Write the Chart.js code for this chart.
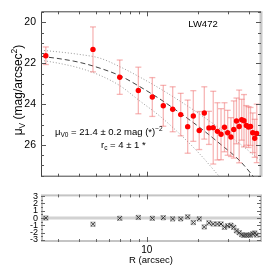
<!DOCTYPE html>
<html><head><meta charset="utf-8">
<script src="https://cdn.jsdelivr.net/npm/chart.js@4.4.0/dist/chart.umd.min.js"></script>
<style>
html,body{margin:0;padding:0;background:#fff;width:270px;height:270px;overflow:hidden;}
#c1{position:absolute;left:0;top:0;width:270px;height:188px;}
#c2{position:absolute;left:0;top:186px;width:270px;height:84px;}
</style></head><body>
<canvas id="c1" width="270" height="188"></canvas>
<canvas id="c2" width="270" height="84"></canvas>
<script>
// ---- data ----
const radius = [2.55, 4.83, 6.94, 8.93, 10.79, 12.52, 14.22, 15.85, 17.42, 18.80, 20.37, 21.82, 23.23, 24.63, 26.07, 27.37, 28.68, 29.95, 31.3, 32.52, 33.73, 34.99, 36.22, 37.35, 38.55, 39.72, 40.80, 42.06, 43.20, 44.4];
const mu = [21.63, 21.32, 22.68, 23.33, 23.65, 24.08, 24.25, 24.51, 25.10, 24.58, 25.29, 24.43, 25.16, 25.15, 25.33, 25.47, 25.13, 25.40, 25.61, 25.24, 24.82, 25.09, 24.76, 24.81, 25.04, 25.12, 25.09, 25.40, 25.67, 25.43];
const muErr = [0.43, 1.1, 0.84, 1.14, 0.95, 1.0, 1.1, 1.04, 1.3, 1.24, 0.93, 1.28, 0.81, 1.78, 1.4, 1.25, 1.2, 1.1, 0.95, 1.4, 1.12, 1.78, 1.0, 1.28, 0.97, 1.0, 0.93, 0.97, 0.93, 1.43];
const resid = [0, -0.86, -0.04, 0.08, -0.04, 0.04, -0.12, -0.12, 0.16, -0.62, -0.12, -1.23, -0.66, -0.82, -0.82, -0.82, -1.28, -1.07, -0.99, -1.28, -1.77, -2.02, -2.3, -2.39, -2.35, -2.35, -2.35, -2.18, -2.06, -2.35];
const modelR = [2.389, 3.090, 4.052, 5.312, 6.965, 9.133, 11.97, 15.70, 20.58, 26.99, 35.38, 47.03];
const fitMid = [21.66, 21.78, 21.96, 22.24, 22.61, 23.15, 23.75, 24.43, 25.15, 25.94, 26.78, 28.0];
const fitHi  = [21.36, 21.45, 21.57, 21.75, 22.17, 22.68, 23.24, 23.85, 24.50, 25.20, 25.94, 26.78];
const fitLo  = [21.85, 22.01, 22.24, 22.59, 23.10, 23.85, 24.59, 25.47, 26.45, 27.57, 28.6, 29.5];
const muTicks = [20, 22, 24, 26];
const residTicks = [-3, -2, -1, 0, 1, 2, 3];
const xLabelTicks = [10];
const xMinorTicks = [3, 4, 5, 6, 7, 8, 9, 20, 30, 40];
const xMin = 2.389, xMax = 47.03;
const FONT = "'Liberation Sans', Arial, sans-serif";

function line(ctx, x1, y1, x2, y2) { ctx.beginPath(); ctx.moveTo(x1, y1); ctx.lineTo(x2, y2); ctx.stroke(); }
function richText(ctx, segs, x, y, align) {
  let w = 0;
  segs.forEach(s => { ctx.font = s.s + 'px ' + FONT; w += ctx.measureText(s.t).width; });
  let cx = align === 'center' ? x - w / 2 : x;
  ctx.textAlign = 'left'; ctx.textBaseline = 'alphabetic';
  segs.forEach(s => { ctx.font = s.s + 'px ' + FONT; ctx.fillText(s.t, cx, y + (s.dy || 0)); cx += ctx.measureText(s.t).width; });
}

const mainDecor = {
  id: 'mainDecor',
  beforeDatasetDraw(chart, args) {
    if (args.index !== 0) return;
    const ctx = chart.ctx, xs = chart.scales.x, ys = chart.scales.y;
    ctx.save();
    ctx.strokeStyle = 'rgba(240,110,110,0.5)';
    ctx.lineWidth = 1.3;
    radius.forEach((r, i) => {
      const x = xs.getPixelForValue(r);
      const y1 = ys.getPixelForValue(mu[i] - muErr[i]);
      const y2 = ys.getPixelForValue(mu[i] + muErr[i]);
      line(ctx, x, y1, x, y2);
      line(ctx, x - 3, y1, x + 3, y1);
      line(ctx, x - 3, y2, x + 3, y2);
    });
    ctx.restore();
  },
  afterDraw(chart) {
    const ctx = chart.ctx, a = chart.chartArea, xs = chart.scales.x, ys = chart.scales.y;
    ctx.save();
    ctx.strokeStyle = '#c8c8c8'; ctx.lineWidth = 3;
    line(ctx, a.right, a.top, a.right, a.bottom);
    ctx.strokeStyle = '#444'; ctx.lineWidth = 1;
    ctx.beginPath();
    ctx.moveTo(a.right, a.top + 0.5); ctx.lineTo(a.left + 0.5, a.top + 0.5);
    ctx.lineTo(a.left + 0.5, a.bottom - 0.5); ctx.lineTo(a.right, a.bottom - 0.5);
    ctx.stroke();
    ctx.strokeStyle = '#555';
    for (let v = 19.5; v <= 27.5; v += 0.5) {
      const y = Math.round(ys.getPixelForValue(v)) + 0.5;
      const L = (v % 2 === 0) ? 5 : 3;
      line(ctx, a.left, y, a.left + L, y);
      line(ctx, a.right, y, a.right - L, y);
    }
    xMinorTicks.concat(xLabelTicks).forEach(v => {
      const x = Math.round(xs.getPixelForValue(v)) + 0.5;
      const L = xLabelTicks.includes(v) ? 5 : 3;
      line(ctx, x, a.top, x, a.top + L);
      line(ctx, x, a.bottom, x, a.bottom - L);
    });
    ctx.fillStyle = '#000';
    richText(ctx, [{t: 'LW472', s: 9.5}], 203, 27, 'center');
    richText(ctx, [{t: 'μ', s: 9.5}, {t: 'V0', s: 6.5, dy: 2}, {t: ' = 21.4 ± 0.2 mag (*)', s: 9.5}, {t: '−2', s: 6.5, dy: -4}], 55, 135, 'left');
    richText(ctx, [{t: 'r', s: 9.5}, {t: 'c', s: 6.5, dy: 2}, {t: ' = 4 ± 1 *', s: 9.5}], 101, 148, 'left');
    ctx.translate(18, 90);
    ctx.rotate(-Math.PI / 2);
    richText(ctx, [{t: 'μ', s: 12}, {t: 'V', s: 8.5, dy: 3}, {t: ' (mag/arcsec', s: 12}, {t: '2', s: 8.5, dy: -5}, {t: ')', s: 12}], 0, 4, 'center');
    ctx.restore();
  }
};

const residDecor = {
  id: 'residDecor',
  beforeDatasetsDraw(chart) {
    const ctx = chart.ctx, a = chart.chartArea, ys = chart.scales.y;
    ctx.save();
    ctx.strokeStyle = '#d2d2d2'; ctx.lineWidth = 3;
    const y0 = ys.getPixelForValue(0);
    line(ctx, a.left, y0, a.right, y0);
    ctx.restore();
  },
  afterDraw(chart) {
    const ctx = chart.ctx, a = chart.chartArea, xs = chart.scales.x, ys = chart.scales.y;
    ctx.save();
    ctx.strokeStyle = '#c4c4c4'; ctx.lineWidth = 2;
    ctx.strokeRect(a.left + 1, a.top + 1, a.right - a.left - 1, a.bottom - a.top - 2);
    ctx.strokeStyle = '#666'; ctx.lineWidth = 1;
    for (let v = -3; v <= 3; v += 0.5) {
      const y = Math.round(ys.getPixelForValue(v)) + 0.5;
      const L = Number.isInteger(v) ? 4 : 2;
      line(ctx, a.left, y, a.left + L, y);
      line(ctx, a.right, y, a.right - L, y);
    }
    xMinorTicks.concat(xLabelTicks).forEach(v => {
      const x = Math.round(xs.getPixelForValue(v)) + 0.5;
      const L = xLabelTicks.includes(v) ? 5 : 3;
      line(ctx, x, a.top, x, a.top + L);
      line(ctx, x, a.bottom, x, a.bottom - L);
    });
    ctx.fillStyle = '#000';
    ctx.translate(20, 216);
    ctx.rotate(-Math.PI / 2);
    richText(ctx, [{t: 'residuals', s: 9}], 0, 0, 'center');
    ctx.restore();
  }
};

new Chart(document.getElementById('c1'), {
  type: 'line',
  data: { datasets: [
    { data: radius.map((r, i) => ({x: r, y: mu[i]})), showLine: false, pointRadius: 2.7,
      pointBackgroundColor: '#ff0000', pointBorderColor: '#ff0000', pointBorderWidth: 0 },
    { data: modelR.map((r, i) => ({x: r, y: fitMid[i]})), borderColor: '#444', borderWidth: 1,
      borderDash: [5, 3], pointRadius: 0, cubicInterpolationMode: 'monotone', fill: false },
    { data: modelR.map((r, i) => ({x: r, y: fitHi[i]})), borderColor: '#999', borderWidth: 1,
      borderDash: [1, 2], pointRadius: 0, cubicInterpolationMode: 'monotone', fill: false },
    { data: modelR.map((r, i) => ({x: r, y: fitLo[i]})), borderColor: '#999', borderWidth: 1,
      borderDash: [1, 2], pointRadius: 0, cubicInterpolationMode: 'monotone', fill: false }
  ]},
  options: {
    responsive: false, animation: false, devicePixelRatio: 1, events: [],
    layout: { padding: { top: 11, right: 9, bottom: 3, left: 0 } },
    plugins: { legend: { display: false }, tooltip: { enabled: false } },
    scales: {
      x: { type: 'logarithmic', min: xMin, max: xMax, display: false },
      y: { type: 'linear', reverse: true, min: 19.456, max: 27.549,
        grid: { display: false, drawTicks: false }, border: { display: false },
        ticks: { font: { family: FONT, size: 10.5 }, color: '#000', padding: 5, autoSkip: false },
        afterBuildTicks: s => { s.ticks = muTicks.map(v => ({value: v})); },
        afterFit: s => { s.width = 41; } }
    }
  },
  plugins: [mainDecor]
});

const residPts = radius.map((r, i) => ({x: r, y: resid[i]}));
new Chart(document.getElementById('c2'), {
  type: 'line',
  data: { datasets: [
    { data: residPts, showLine: false, pointStyle: 'crossRot', pointRadius: 3,
      pointBorderColor: '#333', pointBorderWidth: 1, pointBackgroundColor: 'rgba(0,0,0,0)' },
    { data: residPts, showLine: false, pointStyle: 'rect', pointRadius: 3,
      pointBorderColor: '#999', pointBorderWidth: 0.8, pointBackgroundColor: 'rgba(0,0,0,0)' }
  ]},
  options: {
    responsive: false, animation: false, devicePixelRatio: 1, events: [],
    layout: { padding: { top: 3, right: 9, bottom: 0, left: 0 } },
    plugins: { legend: { display: false }, tooltip: { enabled: false } },
    scales: {
      x: { type: 'logarithmic', min: xMin, max: xMax,
        grid: { display: false, drawTicks: false }, border: { display: false },
        ticks: { font: { family: FONT, size: 10 }, color: '#000', padding: 2, maxRotation: 0, autoSkip: false,
          callback: v => String(v) },
        afterBuildTicks: s => { s.ticks = xLabelTicks.map(v => ({value: v})); },
        title: { display: true, text: 'R (arcsec)', color: '#000', font: { family: FONT, size: 9.5 }, padding: { top: 0, bottom: 4 } },
        afterFit: s => { s.height = 28; } },
      y: { type: 'linear', min: -3.3, max: 3.25,
        grid: { display: false, drawTicks: false }, border: { display: false },
        ticks: { font: { family: FONT, size: 9 }, color: '#000', padding: 3, autoSkip: false },
        afterBuildTicks: s => { s.ticks = residTicks.map(v => ({value: v})); },
        afterFit: s => { s.width = 41; } }
    }
  },
  plugins: [residDecor]
});
</script>
</body></html>
